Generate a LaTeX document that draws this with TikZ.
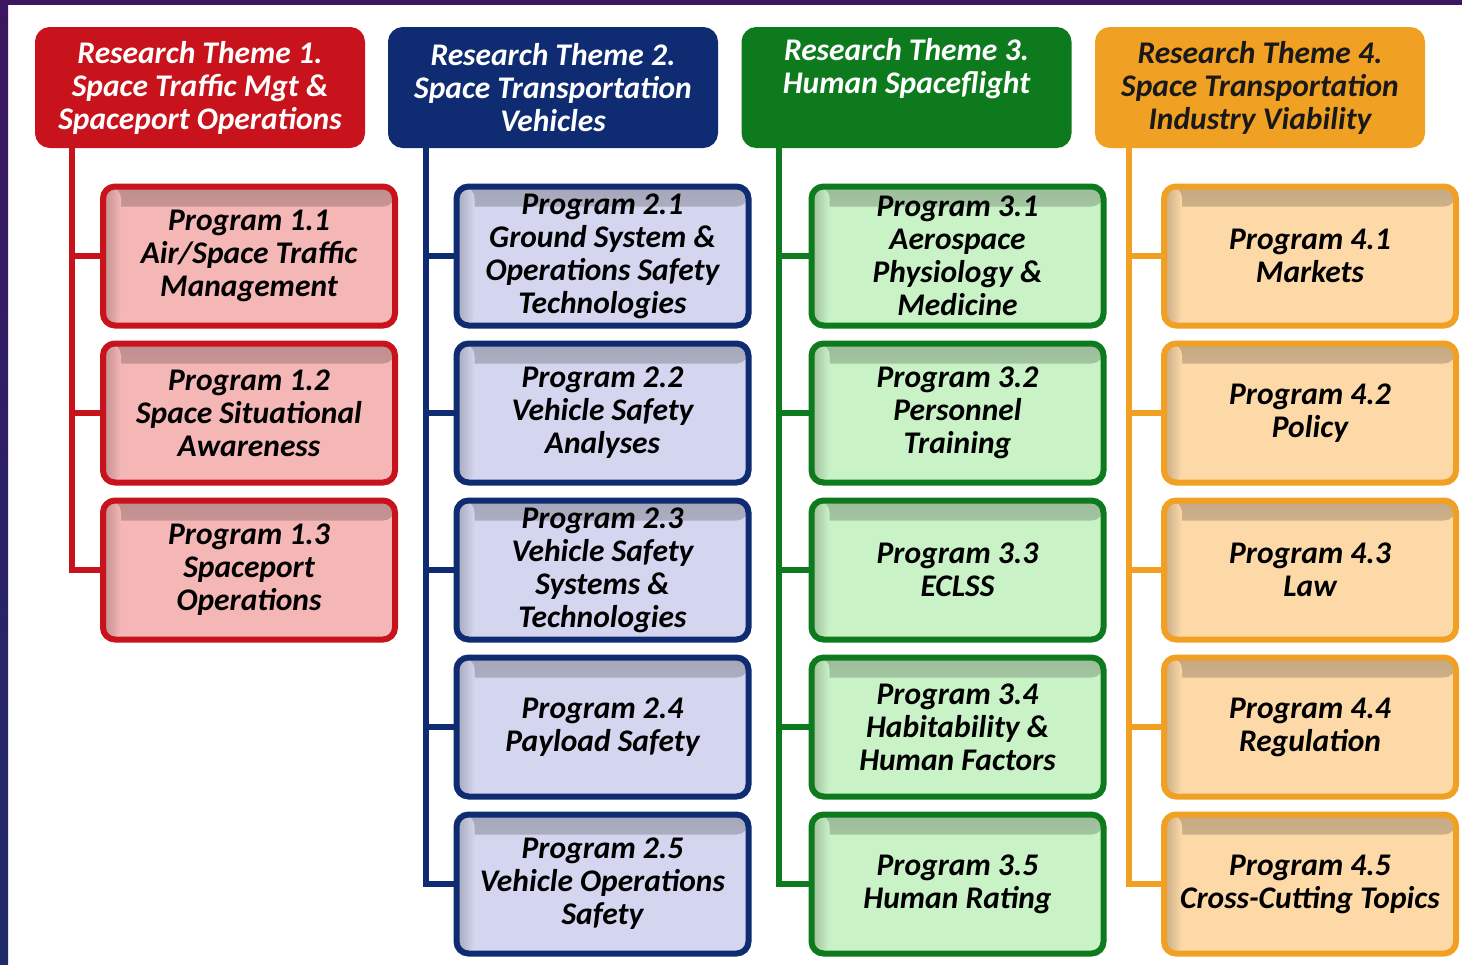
\documentclass[tikz,border=0pt]{standalone}
\usepackage{fontspec}
\setmainfont{Carlito}
\usetikzlibrary{positioning}

\definecolor{themered}{HTML}{C8121C}
\definecolor{themeblue}{HTML}{0F2C72}
\definecolor{themegreen}{HTML}{0E7A1E}
\definecolor{themeorange}{HTML}{F0A022}
\definecolor{fillred}{HTML}{F5B6B6}
\definecolor{fillblue}{HTML}{D3D6EE}
\definecolor{fillgreen}{HTML}{C9F2C6}
\definecolor{fillorange}{HTML}{FDD9A8}
\definecolor{slidetop}{HTML}{3C1660}
\definecolor{slidebot}{HTML}{1F2A6A}

\begin{document}
\begin{tikzpicture}[x=1pt, y=-1pt,
    box/.style={rounded corners=12pt, line width=6pt, align=center,
        inner xsep=4pt, inner ysep=2pt,
        font=\fontsize{31.5}{33}\selectfont\bfseries\itshape},
    theme/.style 2 args={box, draw=#1, fill=#1, text=#2,
        minimum width=324pt, minimum height=115pt},
    prog/.style 2 args={box, draw=#1, fill=#2, text=black,
        minimum width=292pt, minimum height=139pt,
        path picture={
            \shade[top color=black!22!#2, bottom color=#2]
                (path picture bounding box.north west) rectangle
                ([yshift=-20pt]path picture bounding box.north east);
            \shade[left color=black!22!#2, right color=#2]
                (path picture bounding box.north west) rectangle
                ([xshift=18pt]path picture bounding box.south west);
        }},
    spine/.style={line width=6pt, draw=#1}]

    % slide background
    \useasboundingbox (0,0) rectangle (1462,964);
    \fill[white] (0,0) rectangle (1462,964);
    \fill[slidetop] (0,0) rectangle (1462,5);
    \shade[top color=slidetop, bottom color=slidebot] (0,0) rectangle (8,964);

    % research themes
    \node[theme={themered}{white}] (t1) at (200,87.5)
        {Research Theme 1.\\Space Traffic Mgt \&\\Spaceport Operations};
    \node[theme={themeblue}{white}] (t2) at (553,87.5)
        {Research Theme 2.\\Space Transportation\\Vehicles};
    \node[theme={themegreen}{white}] (t3) at (906.5,87.5)
        {Research Theme 3.\\Human Spaceflight\\\strut};
    \node[theme={themeorange}{black!90}] (t4) at (1260,87.5)
        {Research Theme 4.\\Space Transportation\\Industry Viability};

    % theme 1 programs
    \node[prog={themered}{fillred}] (p11) at (249,256)
        {Program 1.1\\Air/Space Traffic\\Management};
    \node[prog={themered}{fillred}, below=12pt of p11] (p12)
        {Program 1.2\\Space Situational\\Awareness};
    \node[prog={themered}{fillred}, below=12pt of p12] (p13)
        {Program 1.3\\Spaceport\\Operations};

    % theme 2 programs
    \node[prog={themeblue}{fillblue}] (p21) at (602.5,256)
        {Program 2.1\\Ground System \&\\Operations Safety\\Technologies};
    \node[prog={themeblue}{fillblue}, below=12pt of p21] (p22)
        {Program 2.2\\Vehicle Safety\\Analyses};
    \node[prog={themeblue}{fillblue}, below=12pt of p22] (p23)
        {Program 2.3\\Vehicle Safety\\Systems \&\\Technologies};
    \node[prog={themeblue}{fillblue}, below=12pt of p23] (p24)
        {Program 2.4\\Payload Safety};
    \node[prog={themeblue}{fillblue}, below=12pt of p24] (p25)
        {Program 2.5\\Vehicle Operations\\Safety};

    % theme 3 programs
    \node[prog={themegreen}{fillgreen}] (p31) at (957.5,256)
        {Program 3.1\\Aerospace\\Physiology \&\\Medicine};
    \node[prog={themegreen}{fillgreen}, below=12pt of p31] (p32)
        {Program 3.2\\Personnel\\Training};
    \node[prog={themegreen}{fillgreen}, below=12pt of p32] (p33)
        {Program 3.3\\ECLSS};
    \node[prog={themegreen}{fillgreen}, below=12pt of p33] (p34)
        {Program 3.4\\Habitability \&\\Human Factors};
    \node[prog={themegreen}{fillgreen}, below=12pt of p34] (p35)
        {Program 3.5\\Human Rating};

    % theme 4 programs
    \node[prog={themeorange}{fillorange}] (p41) at (1310,256)
        {Program 4.1\\Markets};
    \node[prog={themeorange}{fillorange}, below=12pt of p41] (p42)
        {Program 4.2\\Policy};
    \node[prog={themeorange}{fillorange}, below=12pt of p42] (p43)
        {Program 4.3\\Law};
    \node[prog={themeorange}{fillorange}, below=12pt of p43] (p44)
        {Program 4.4\\Regulation};
    \node[prog={themeorange}{fillorange}, below=12pt of p44] (p45)
        {Program 4.5\\Cross-Cutting Topics};

    % spines and branches
    \coordinate (s1) at ([xshift=37pt]t1.south west);
    \coordinate (s2) at ([xshift=38pt]t2.south west);
    \coordinate (s3) at ([xshift=37pt]t3.south west);
    \coordinate (s4) at ([xshift=34pt]t4.south west);
    \draw[spine=themered] (s1) |- (p13.west);
    \foreach \p in {p11,p12}
        \draw[spine=themered] (s1 |- \p.west) -- (\p.west);
    \draw[spine=themeblue] (s2) |- (p25.west);
    \foreach \p in {p21,p22,p23,p24}
        \draw[spine=themeblue] (s2 |- \p.west) -- (\p.west);
    \draw[spine=themegreen] (s3) |- (p35.west);
    \foreach \p in {p31,p32,p33,p34}
        \draw[spine=themegreen] (s3 |- \p.west) -- (\p.west);
    \draw[spine=themeorange] (s4) |- (p45.west);
    \foreach \p in {p41,p42,p43,p44}
        \draw[spine=themeorange] (s4 |- \p.west) -- (\p.west);
\end{tikzpicture}
\end{document}
